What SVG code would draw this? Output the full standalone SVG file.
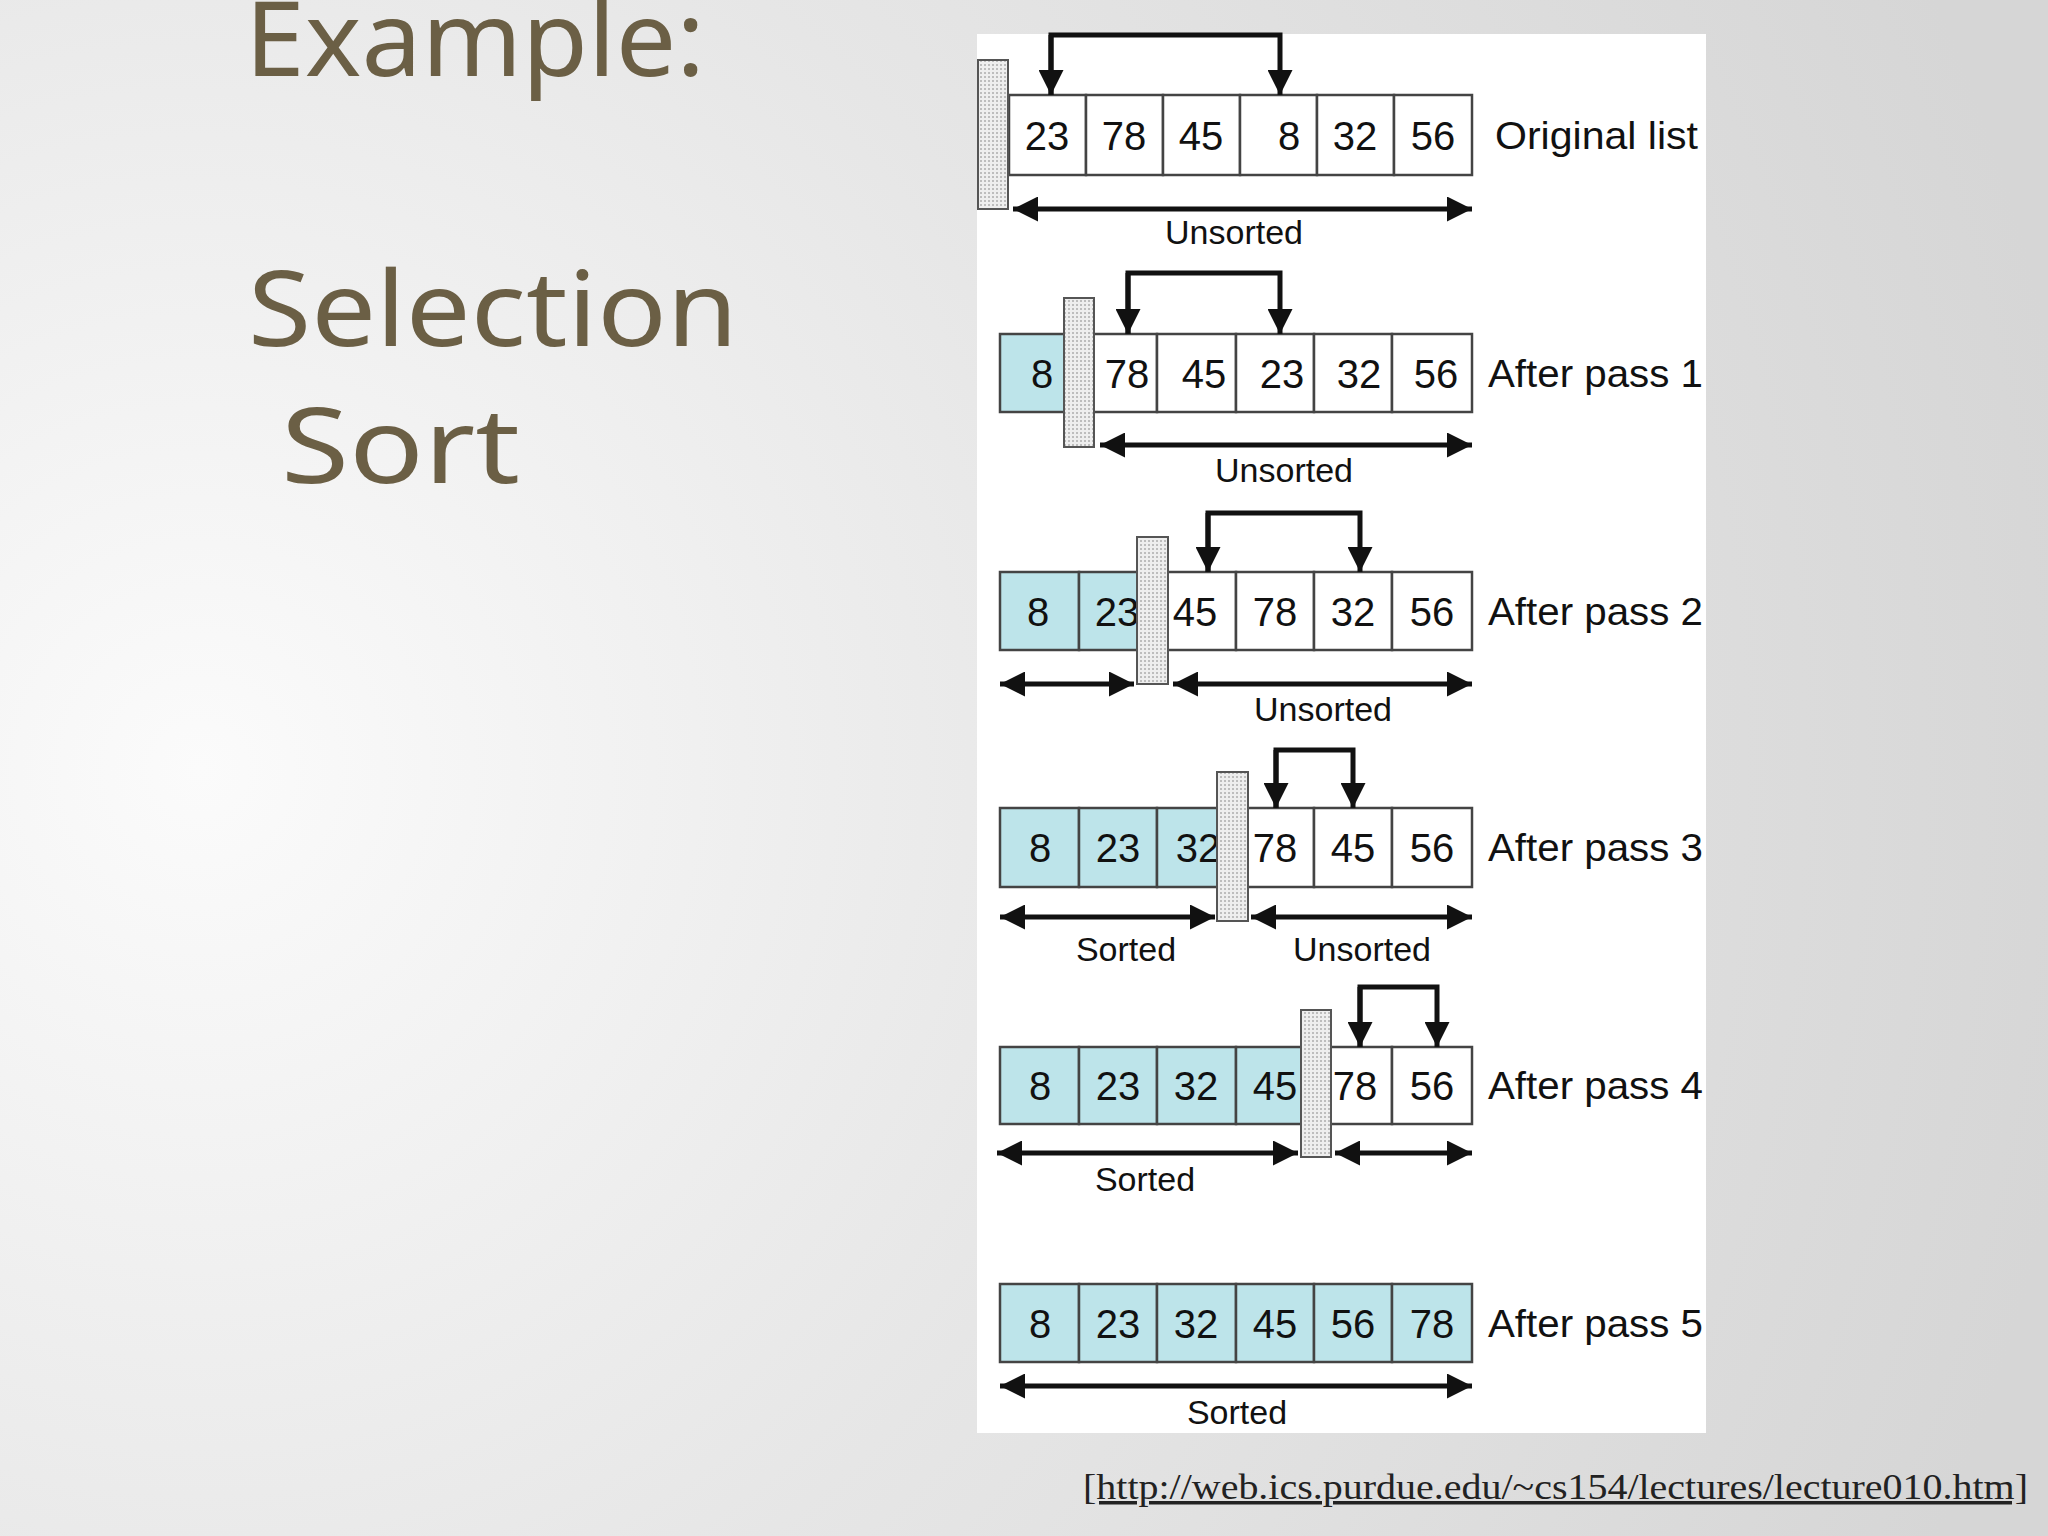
<svg xmlns="http://www.w3.org/2000/svg" width="2048" height="1536" viewBox="0 0 2048 1536">
<defs>
<radialGradient id="bg" cx="200" cy="770" r="1900" gradientUnits="userSpaceOnUse">
<stop offset="0" stop-color="#fbfbfb"/><stop offset="0.5" stop-color="#e6e6e6"/><stop offset="1" stop-color="#d6d6d6"/>
</radialGradient>
<pattern id="dots" width="4" height="4" patternUnits="userSpaceOnUse"><rect width="4" height="4" fill="#eeeeee"/><rect width="2" height="2" fill="#bdbdbd"/></pattern>
<marker id="ah" viewBox="0 0 10 10" refX="10" refY="5" markerWidth="6" markerHeight="5" orient="auto-start-reverse" markerUnits="strokeWidth"><path d="M0,0 L10,5 L0,10 z" fill="#111"/></marker>
</defs>
<style>
.t{font-family:"Comic Sans MS","Noto Sans",sans-serif;fill:#6b5f45;font-size:104px}
.c{fill:#fff;stroke:#444;stroke-width:2.5}
.s{fill:#bde4ea;stroke:#444;stroke-width:2.5}
.n{font-family:"Liberation Sans",Arial,sans-serif;font-size:40px;fill:#111;text-anchor:middle}
.l{font-family:"Liberation Sans",Arial,sans-serif;font-size:39px;fill:#111}
.u{font-family:"Liberation Sans",Arial,sans-serif;font-size:34px;fill:#111;text-anchor:middle}
.a{fill:none;stroke:#111;stroke-width:5;marker-end:url(#ah)}
.d{fill:none;stroke:#111;stroke-width:5;marker-start:url(#ah);marker-end:url(#ah)}
.bar{fill:url(#dots);stroke:#555;stroke-width:2}
</style>
<rect width="2048" height="1536" fill="url(#bg)"/>
<text class="t" x="245" y="76" textLength="460" lengthAdjust="spacingAndGlyphs">Example:</text>
<text class="t" x="248" y="346" textLength="490" lengthAdjust="spacingAndGlyphs">Selection</text>
<text class="t" x="281" y="483" textLength="239" lengthAdjust="spacingAndGlyphs">Sort</text>
<rect x="977" y="34" width="729" height="1399" fill="#fff"/>
<g id="row1">
<rect class="c" x="1009" y="95" width="77" height="80"/><rect class="c" x="1086" y="95" width="77" height="80"/><rect class="c" x="1163" y="95" width="77" height="80"/><rect class="c" x="1240" y="95" width="77" height="80"/><rect class="c" x="1317" y="95" width="77" height="80"/><rect class="c" x="1394" y="95" width="78" height="80"/>
<text class="n" x="1047" y="150">23</text><text class="n" x="1124" y="150">78</text><text class="n" x="1201" y="150">45</text><text class="n" x="1289" y="150">8</text><text class="n" x="1355" y="150">32</text><text class="n" x="1433" y="150">56</text>
<rect class="bar" x="978" y="60" width="30" height="149"/>
<text class="l" x="1495" y="149" textLength="203" lengthAdjust="spacingAndGlyphs">Original list</text>
<text class="u" x="1234" y="244">Unsorted</text>
</g>
<g id="row2">
<rect class="s" x="1000" y="334" width="79" height="78"/><rect class="c" x="1079" y="334" width="78" height="78"/><rect class="c" x="1157" y="334" width="79" height="78"/><rect class="c" x="1236" y="334" width="78" height="78"/><rect class="c" x="1314" y="334" width="78" height="78"/><rect class="c" x="1392" y="334" width="80" height="78"/>
<text class="n" x="1042" y="388">8</text><text class="n" x="1127" y="388">78</text><text class="n" x="1204" y="388">45</text><text class="n" x="1282" y="388">23</text><text class="n" x="1359" y="388">32</text><text class="n" x="1436" y="388">56</text>
<rect class="bar" x="1064" y="298" width="30" height="149"/>
<text class="l" x="1488" y="387" textLength="215" lengthAdjust="spacingAndGlyphs">After pass 1</text>
<text class="u" x="1284" y="482">Unsorted</text>
</g>
<g id="row3">
<rect class="s" x="1000" y="572" width="79" height="78"/><rect class="s" x="1079" y="572" width="78" height="78"/><rect class="c" x="1157" y="572" width="79" height="78"/><rect class="c" x="1236" y="572" width="78" height="78"/><rect class="c" x="1314" y="572" width="78" height="78"/><rect class="c" x="1392" y="572" width="80" height="78"/>
<text class="n" x="1038" y="626">8</text><text class="n" x="1117" y="626">23</text><text class="n" x="1195" y="626">45</text><text class="n" x="1275" y="626">78</text><text class="n" x="1353" y="626">32</text><text class="n" x="1432" y="626">56</text>
<rect class="bar" x="1137" y="537" width="31" height="147"/>
<text class="l" x="1488" y="625" textLength="215" lengthAdjust="spacingAndGlyphs">After pass 2</text>
<text class="u" x="1323" y="721">Unsorted</text>
</g>
<g id="row4">
<rect class="s" x="1000" y="808" width="79" height="79"/><rect class="s" x="1079" y="808" width="78" height="79"/><rect class="s" x="1157" y="808" width="79" height="79"/><rect class="c" x="1236" y="808" width="78" height="79"/><rect class="c" x="1314" y="808" width="78" height="79"/><rect class="c" x="1392" y="808" width="80" height="79"/>
<text class="n" x="1040" y="862">8</text><text class="n" x="1118" y="862">23</text><text class="n" x="1198" y="862">32</text><text class="n" x="1275" y="862">78</text><text class="n" x="1353" y="862">45</text><text class="n" x="1432" y="862">56</text>
<rect class="bar" x="1217" y="772" width="31" height="149"/>
<text class="l" x="1488" y="861" textLength="215" lengthAdjust="spacingAndGlyphs">After pass 3</text>
<text class="u" x="1126" y="961">Sorted</text>
<text class="u" x="1362" y="961">Unsorted</text>
</g>
<g id="row5">
<rect class="s" x="1000" y="1047" width="79" height="77"/><rect class="s" x="1079" y="1047" width="78" height="77"/><rect class="s" x="1157" y="1047" width="79" height="77"/><rect class="s" x="1236" y="1047" width="78" height="77"/><rect class="c" x="1314" y="1047" width="78" height="77"/><rect class="c" x="1392" y="1047" width="80" height="77"/>
<text class="n" x="1040" y="1100">8</text><text class="n" x="1118" y="1100">23</text><text class="n" x="1196" y="1100">32</text><text class="n" x="1275" y="1100">45</text><text class="n" x="1355" y="1100">78</text><text class="n" x="1432" y="1100">56</text>
<rect class="bar" x="1301" y="1010" width="30" height="147"/>
<text class="l" x="1488" y="1099" textLength="215" lengthAdjust="spacingAndGlyphs">After pass 4</text>
<text class="u" x="1145" y="1191">Sorted</text>
</g>
<g id="row6">
<rect class="s" x="1000" y="1284" width="79" height="78"/><rect class="s" x="1079" y="1284" width="78" height="78"/><rect class="s" x="1157" y="1284" width="79" height="78"/><rect class="s" x="1236" y="1284" width="78" height="78"/><rect class="s" x="1314" y="1284" width="78" height="78"/><rect class="s" x="1392" y="1284" width="80" height="78"/>
<text class="n" x="1040" y="1338">8</text><text class="n" x="1118" y="1338">23</text><text class="n" x="1196" y="1338">32</text><text class="n" x="1275" y="1338">45</text><text class="n" x="1353" y="1338">56</text><text class="n" x="1432" y="1338">78</text>
<text class="l" x="1488" y="1337" textLength="215" lengthAdjust="spacingAndGlyphs">After pass 5</text>
<text class="u" x="1237" y="1424">Sorted</text>
</g>
<g id="connectors">
<path class="a" d="M1051,95 V35 H1280 V95"/>
<path class="a" d="M1051,35 V95"/>
<path class="a" d="M1128,334 V273 H1280 V334"/>
<path class="a" d="M1128,273 V334"/>
<path class="a" d="M1208,572 V513 H1360 V572"/>
<path class="a" d="M1208,513 V572"/>
<path class="a" d="M1276,808 V750 H1353 V808"/>
<path class="a" d="M1276,750 V808"/>
<path class="a" d="M1360,1047 V987 H1437 V1047"/>
<path class="a" d="M1360,987 V1047"/>
<path class="d" d="M1013,209 H1472"/>
<path class="d" d="M1100,445 H1472"/>
<path class="d" d="M1000,684 H1134"/>
<path class="d" d="M1173,684 H1472"/>
<path class="d" d="M1000,917 H1215"/>
<path class="d" d="M1251,917 H1472"/>
<path class="d" d="M997,1153 H1298"/>
<path class="d" d="M1335,1153 H1472"/>
<path class="d" d="M1000,1386 H1472"/>
</g>
<text x="1083" y="1499" font-family="Liberation Serif,serif" font-size="35" fill="#222" text-decoration="underline" textLength="945" lengthAdjust="spacingAndGlyphs">[http://web.ics.purdue.edu/~cs154/lectures/lecture010.htm]</text>
</svg>
